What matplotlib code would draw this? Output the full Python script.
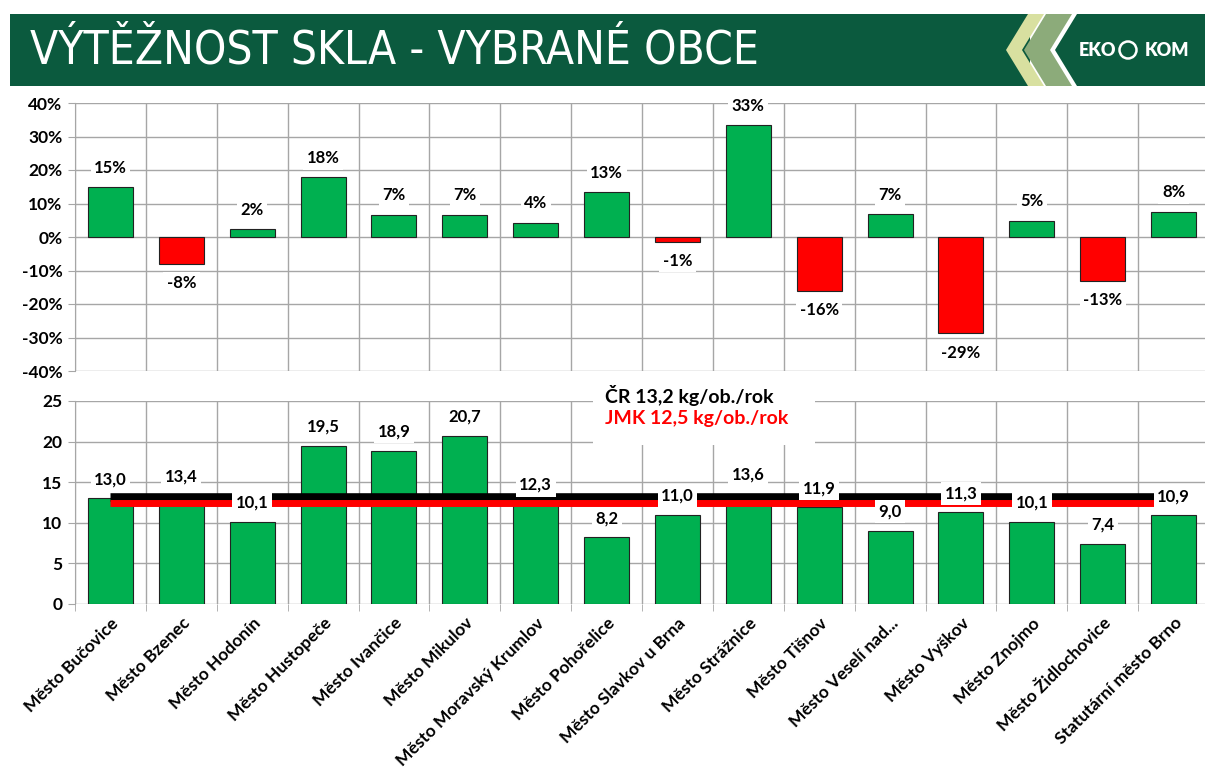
import matplotlib as mpl
mpl.use('Agg')

import numpy as np
import matplotlib.pyplot as plt
from matplotlib.patches import Polygon, Rectangle, Circle

# data
cities = ['Město Bučovice', 'Město Bzenec', 'Město Hodonín', 'Město Hustopeče',
          'Město Ivančice', 'Město Mikulov', 'Město Moravský Krumlov',
          'Město Pohořelice', 'Město Slavkov u Brna', 'Město Strážnice',
          'Město Tišnov', 'Město Veselí nad...', 'Město Vyškov', 'Město Znojmo',
          'Město Židlochovice', 'Statutární město Brno']
change_pct = [14.8, -8.1, 2.4, 17.8, 6.7, 6.7, 4.3, 13.3, -1.4, 33.4,
              -16.1, 6.8, -28.8, 4.9, -13.0, 7.6]
yield_kg = [13.0, 13.4, 10.1, 19.5, 18.9, 20.7, 12.3, 8.2, 11.0, 13.6,
            11.9, 9.0, 11.3, 10.1, 7.4, 10.9]
cr_avg = 13.2
jmk_avg = 12.5

GREEN = '#00b050'
RED = '#ff0000'
GRID = '#a6a6a6'
DARK = '#0b5a3e'

plt.rcParams['font.family'] = ['Lato', 'DejaVu Sans']
plt.rcParams['font.weight'] = 'bold'

fig = plt.figure(figsize=(12.05, 7.82), dpi=100)

n = len(cities)
x = np.arange(n)
bounds = np.arange(n + 1) - 0.5


def style_axes(ax):
    for s in ['top', 'right', 'bottom']:
        ax.spines[s].set_visible(False)
    ax.spines['left'].set_color(GRID)
    ax.set_xlim(-0.5, n - 0.5)
    ax.set_xticks(bounds, minor=True)
    ax.grid(True, which='minor', axis='x', color=GRID, lw=1)
    ax.grid(True, which='major', axis='y', color=GRID, lw=1)
    ax.set_axisbelow(True)
    ax.tick_params(axis='y', length=5, color=GRID, labelsize=12.5, pad=4)


# upper chart: change in %
ax1 = fig.add_axes([75 / 1205, 1 - 371 / 782, 1134 / 1205, 268 / 782])
style_axes(ax1)
cols = [GREEN if v >= 0 else RED for v in change_pct]
ax1.bar(x, change_pct, width=0.635, color=cols, edgecolor='#222222', lw=0.8, zorder=2)
ax1.set_ylim(-40, 40)
ax1.set_yticks(np.arange(-40, 41, 10))
ax1.set_yticklabels(['%d%%' % t for t in range(-40, 41, 10)])
ax1.set_xticks([])
ax1.tick_params(axis='x', which='minor', length=0)
for xi, v in zip(x, change_pct):
    ax1.annotate('%d%%' % round(v), (xi, v), xytext=(0, 8 if v >= 0 else -8),
                 textcoords='offset points', ha='center',
                 va='bottom' if v >= 0 else 'top', fontsize=12, zorder=4,
                 bbox=dict(fc='white', ec='none', pad=2.5))

# lower chart: kg per inhabitant
ax2 = fig.add_axes([75 / 1205, 1 - 604 / 782, 1134 / 1205, 203 / 782])
style_axes(ax2)
ax2.bar(x, yield_kg, width=0.635, color=GREEN, edgecolor='#222222', lw=0.8, zorder=2)
ax2.set_ylim(0, 25)
ax2.set_yticks(np.arange(0, 26, 5))
ax2.hlines(cr_avg, 0, n - 1, color='black', lw=6.2, zorder=3)
ax2.hlines(jmk_avg, 0, n - 1, color=RED, lw=5.0, zorder=3.1)
for xi, v in zip(x, yield_kg):
    ax2.annotate(('%.1f' % v).replace('.', ','), (xi, v), xytext=(0, 8),
                 textcoords='offset points', ha='center', va='bottom',
                 fontsize=12, zorder=4,
                 bbox=dict(fc='white', ec='none', pad=2.5))
ax2.set_xticks(x)
ax2.set_xticklabels(cities, rotation=45, ha='right', va='top',
                    rotation_mode='anchor', fontsize=12.5)
ax2.tick_params(axis='x', which='major', length=0, pad=8)
ax2.tick_params(axis='x', which='minor', length=5, color=GRID)

# white box behind the average note
ax2.add_patch(Rectangle((6.81, 19.6), 3.13, 8.2, fc='white', ec='none',
                        clip_on=False, zorder=4.5))
ax2.text(6.98, 25.7, ('ČR %.1f kg/ob./rok' % cr_avg).replace('.', ',', 1),
         color='black', fontsize=14, ha='left', va='center', clip_on=False, zorder=5)
ax2.text(6.98, 22.9, ('JMK %.1f kg/ob./rok' % jmk_avg).replace('.', ',', 1),
         color=RED, fontsize=14, ha='left', va='center', clip_on=False, zorder=5)

# header banner
hdr = fig.add_axes([0, 0, 1, 1], zorder=-1)
hdr.set_xlim(0, 1205)
hdr.set_ylim(782, 0)
hdr.axis('off')
hdr.add_patch(Rectangle((10, 14), 1020, 72, color=DARK, lw=0))
hdr.add_patch(Polygon([(1028, 14), (1044, 14), (1022, 50), (1044, 86), (1028, 86), (1006, 50)],
                      color='#d8e0a0', lw=0))
hdr.add_patch(Polygon([(1046, 14), (1072, 14), (1050, 50), (1072, 86), (1046, 86), (1024, 50)],
                      color='#8cab7a', lw=0))
hdr.add_patch(Polygon([(1077, 14), (1205, 14), (1205, 86), (1077, 86), (1055, 50)],
                      color=DARK, lw=0))
hdr.text(30, 51, 'VÝTĚŽNOST SKLA - VYBRANÉ OBCE', color='white', fontsize=33,
         fontweight='normal', va='center', ha='left',
         family=['Liberation Sans Narrow', 'DejaVu Sans'], fontstretch='condensed')
hdr.text(1097, 51, 'EKO', color='white', fontsize=13, ha='center', va='center',
         fontweight='heavy')
hdr.add_patch(Circle((1128, 50), 8.5, fc='none', ec='white', lw=1.8))
hdr.text(1167, 51, 'KOM', color='white', fontsize=13, ha='center', va='center',
         fontweight='heavy')

plt.savefig('out.png', dpi=100)
